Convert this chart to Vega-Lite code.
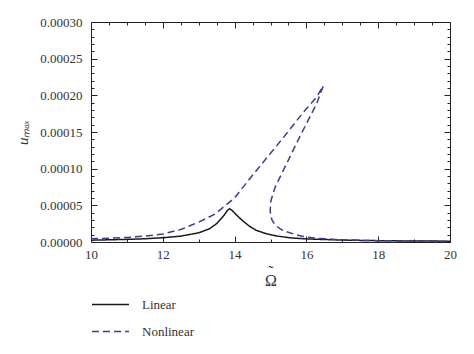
{
  "$schema": "https://vega.github.io/schema/vega-lite/v6.json",
  "width": 359,
  "height": 220,
  "autosize": {"type": "none"},
  "padding": {"left": 91, "top": 22, "right": 24, "bottom": 112},
  "background": "white",
  "config": {
    "view": {"stroke": "#222", "strokeWidth": 1},
    "font": "Liberation Serif"
  },
  "data": {
    "values": [
      {"omega": 10, "u": 0.0000025, "series": "Linear", "k": 1},
      {"omega": 10.5, "u": 0.000003, "series": "Linear", "k": 2},
      {"omega": 11, "u": 0.0000036, "series": "Linear", "k": 3},
      {"omega": 11.5, "u": 0.0000044, "series": "Linear", "k": 4},
      {"omega": 12, "u": 0.0000058, "series": "Linear", "k": 5},
      {"omega": 12.5, "u": 0.000008, "series": "Linear", "k": 6},
      {"omega": 13, "u": 0.0000125, "series": "Linear", "k": 7},
      {"omega": 13.3, "u": 0.000018, "series": "Linear", "k": 8},
      {"omega": 13.5, "u": 0.000025, "series": "Linear", "k": 9},
      {"omega": 13.7, "u": 0.000036, "series": "Linear", "k": 10},
      {"omega": 13.8, "u": 0.000043, "series": "Linear", "k": 11},
      {"omega": 13.86, "u": 0.0000455, "series": "Linear", "k": 12},
      {"omega": 13.93, "u": 0.000043, "series": "Linear", "k": 13},
      {"omega": 14.05, "u": 0.000037, "series": "Linear", "k": 14},
      {"omega": 14.2, "u": 0.00003, "series": "Linear", "k": 15},
      {"omega": 14.4, "u": 0.000022, "series": "Linear", "k": 16},
      {"omega": 14.6, "u": 0.000016, "series": "Linear", "k": 17},
      {"omega": 14.9, "u": 0.000011, "series": "Linear", "k": 18},
      {"omega": 15.2, "u": 0.000008, "series": "Linear", "k": 19},
      {"omega": 15.6, "u": 0.0000055, "series": "Linear", "k": 20},
      {"omega": 16, "u": 0.0000042, "series": "Linear", "k": 21},
      {"omega": 17, "u": 0.0000026, "series": "Linear", "k": 22},
      {"omega": 18, "u": 0.0000018, "series": "Linear", "k": 23},
      {"omega": 19, "u": 0.0000014, "series": "Linear", "k": 24},
      {"omega": 20, "u": 0.0000011, "series": "Linear", "k": 25},
      {"omega": 10, "u": 0.0000045, "series": "Nonlinear", "k": 1},
      {"omega": 10.5, "u": 0.0000052, "series": "Nonlinear", "k": 2},
      {"omega": 11, "u": 0.0000062, "series": "Nonlinear", "k": 3},
      {"omega": 11.5, "u": 0.000008, "series": "Nonlinear", "k": 4},
      {"omega": 12, "u": 0.000011, "series": "Nonlinear", "k": 5},
      {"omega": 12.5, "u": 0.000017, "series": "Nonlinear", "k": 6},
      {"omega": 13, "u": 0.000027, "series": "Nonlinear", "k": 7},
      {"omega": 13.45, "u": 0.000038, "series": "Nonlinear", "k": 8},
      {"omega": 13.7, "u": 0.000048, "series": "Nonlinear", "k": 9},
      {"omega": 14.0, "u": 0.00006, "series": "Nonlinear", "k": 10},
      {"omega": 14.4, "u": 0.000085, "series": "Nonlinear", "k": 11},
      {"omega": 14.9, "u": 0.000115, "series": "Nonlinear", "k": 12},
      {"omega": 15.4, "u": 0.000145, "series": "Nonlinear", "k": 13},
      {"omega": 15.9, "u": 0.000176, "series": "Nonlinear", "k": 14},
      {"omega": 16.29, "u": 0.000198, "series": "Nonlinear", "k": 15},
      {"omega": 16.47, "u": 0.000213, "series": "Nonlinear", "k": 16},
      {"omega": 16.29, "u": 0.000189, "series": "Nonlinear", "k": 17},
      {"omega": 15.82, "u": 0.000144, "series": "Nonlinear", "k": 18},
      {"omega": 15.4, "u": 0.000102, "series": "Nonlinear", "k": 19},
      {"omega": 15.13, "u": 0.000075, "series": "Nonlinear", "k": 20},
      {"omega": 15.01, "u": 0.000056, "series": "Nonlinear", "k": 21},
      {"omega": 14.99, "u": 0.000042, "series": "Nonlinear", "k": 22},
      {"omega": 15.04, "u": 0.00003, "series": "Nonlinear", "k": 23},
      {"omega": 15.13, "u": 0.000023, "series": "Nonlinear", "k": 24},
      {"omega": 15.3, "u": 0.000017, "series": "Nonlinear", "k": 25},
      {"omega": 15.45, "u": 0.000014, "series": "Nonlinear", "k": 26},
      {"omega": 15.7, "u": 0.00001, "series": "Nonlinear", "k": 27},
      {"omega": 15.91, "u": 0.0000075, "series": "Nonlinear", "k": 28},
      {"omega": 16.3, "u": 0.000005, "series": "Nonlinear", "k": 29},
      {"omega": 16.8, "u": 0.0000035, "series": "Nonlinear", "k": 30},
      {"omega": 17.5, "u": 0.0000022, "series": "Nonlinear", "k": 31},
      {"omega": 18.5, "u": 0.0000015, "series": "Nonlinear", "k": 32},
      {"omega": 20, "u": 0.000001, "series": "Nonlinear", "k": 33}
    ]
  },
  "resolve": {"axis": {"x": "independent", "y": "independent"}},
  "layer": [
    {
      "transform": [{"filter": "datum.series === 'Linear'"}],
      "mark": {"type": "line", "strokeWidth": 1.5, "clip": true},
      "encoding": {
        "x": {
          "field": "omega", "type": "quantitative",
          "scale": {"domain": [10, 20], "nice": false, "zero": false},
          "axis": {
            "orient": "bottom",
            "offset": -6,
            "domain": false,
            "values": [10,10.5,11,11.5,12,12.5,13,13.5,14,14.5,15,15.5,16,16.5,17,17.5,18,18.5,19,19.5,20],
            "format": "d",
            "labelExpr": "datum.value % 2 === 0 ? datum.label : ''",
            "labelOverlap": false,
            "labelFlush": false,
            "ticks": true,
            "tickSize": 6,
            "tickWidth": 1,
            "tickDash": {"condition": {"test": "datum.value % 2 === 0", "value": [6, 0]}, "value": [0, 3, 3, 0]},
            "tickColor": "#222",
            "grid": false,
            "labelFont": "Liberation Serif",
            "labelFontSize": 13,
            "labelColor": "#333",
            "labelPadding": 6,
            "title": ["˜", "Ω"],
            "titleFont": "Liberation Serif",
            "titleFontSize": 16,
            "titleLineHeight": 9,
            "titleFontWeight": "normal",
            "titleColor": "#333",
            "titlePadding": 2
          }
        },
        "y": {
          "field": "u", "type": "quantitative",
          "scale": {"domain": [0, 0.0003], "nice": false},
          "axis": {
            "orient": "left",
            "offset": -6,
            "domain": false,
            "values": [0,0.00001,0.00002,0.00003,0.00004,0.00005,0.00006,0.00007,0.00008,0.00009,0.0001,0.00011,0.00012,0.00013,0.00014,0.00015,0.00016,0.00017,0.00018,0.00019,0.0002,0.00021,0.00022,0.00023,0.00024,0.00025,0.00026,0.00027,0.00028,0.00029,0.0003],
            "format": ".5f",
            "labelExpr": "round(datum.value*1e5) % 5 === 0 ? datum.label : ''",
            "labelOverlap": false,
            "labelFlush": false,
            "ticks": true,
            "tickSize": 6,
            "tickWidth": 1,
            "tickDash": {"condition": {"test": "round(datum.value*1e5) % 5 === 0", "value": [6, 0]}, "value": [0, 3, 3, 0]},
            "tickColor": "#222",
            "grid": false,
            "labelFont": "Liberation Serif",
            "labelFontSize": 13,
            "labelColor": "#333",
            "labelPadding": 9,
            "title": "uₘₐₓ",
            "titleFont": "Liberation Serif",
            "titleFontSize": 15,
            "titleFontWeight": "normal",
            "titleFontStyle": "italic",
            "titleColor": "#333",
            "titlePadding": 9
          }
        },
        "order": {"field": "k", "type": "quantitative"},
        "color": {
          "field": "series", "type": "nominal",
          "scale": {"domain": ["Linear", "Nonlinear"], "range": ["#1a1a1a", "#3d3d90"]},
          "legend": {
            "title": null,
            "orient": "none",
            "legendX": 0,
            "legendY": 263,
            "symbolType": "stroke",
            "symbolSize": 1369,
            "symbolStrokeWidth": 1.5,
            "labelFont": "Liberation Serif",
            "labelFontSize": 13,
            "labelColor": "#333",
            "labelOffset": 12,
            "rowPadding": -18
          }
        },
        "strokeDash": {
          "field": "series", "type": "nominal",
          "scale": {"domain": ["Linear", "Nonlinear"], "range": [[1, 0], [7, 4]]},
          "legend": {
            "title": null,
            "orient": "none",
            "legendX": 0,
            "legendY": 263,
            "symbolType": "stroke",
            "symbolSize": 1369,
            "symbolStrokeWidth": 1.5,
            "labelFont": "Liberation Serif",
            "labelFontSize": 13,
            "labelColor": "#333",
            "labelOffset": 12,
            "rowPadding": -18
          }
        }
      }
    },
    {
      "transform": [{"filter": "datum.series === 'Nonlinear'"}],
      "mark": {"type": "line", "strokeWidth": 1.5, "clip": true},
      "encoding": {
        "x": {
          "field": "omega", "type": "quantitative",
          "scale": {"domain": [10, 20], "nice": false, "zero": false},
          "axis": {
            "orient": "top",
            "offset": -6,
            "domain": false,
            "values": [10,10.5,11,11.5,12,12.5,13,13.5,14,14.5,15,15.5,16,16.5,17,17.5,18,18.5,19,19.5,20],
            "labels": false,
            "ticks": true,
            "tickSize": 6,
            "tickWidth": 1,
            "tickDash": {"condition": {"test": "datum.value % 2 === 0", "value": [6, 0]}, "value": [0, 3, 3, 0]},
            "tickColor": "#222",
            "grid": false,
            "title": null
          }
        },
        "y": {
          "field": "u", "type": "quantitative",
          "scale": {"domain": [0, 0.0003], "nice": false},
          "axis": {
            "orient": "right",
            "offset": -6,
            "domain": false,
            "values": [0,0.00001,0.00002,0.00003,0.00004,0.00005,0.00006,0.00007,0.00008,0.00009,0.0001,0.00011,0.00012,0.00013,0.00014,0.00015,0.00016,0.00017,0.00018,0.00019,0.0002,0.00021,0.00022,0.00023,0.00024,0.00025,0.00026,0.00027,0.00028,0.00029,0.0003],
            "labels": false,
            "ticks": true,
            "tickSize": 6,
            "tickWidth": 1,
            "tickDash": {"condition": {"test": "round(datum.value*1e5) % 5 === 0", "value": [6, 0]}, "value": [0, 3, 3, 0]},
            "tickColor": "#222",
            "grid": false,
            "title": null
          }
        },
        "order": {"field": "k", "type": "quantitative"},
        "color": {"field": "series", "type": "nominal"},
        "strokeDash": {"field": "series", "type": "nominal"}
      }
    }
  ]
}
